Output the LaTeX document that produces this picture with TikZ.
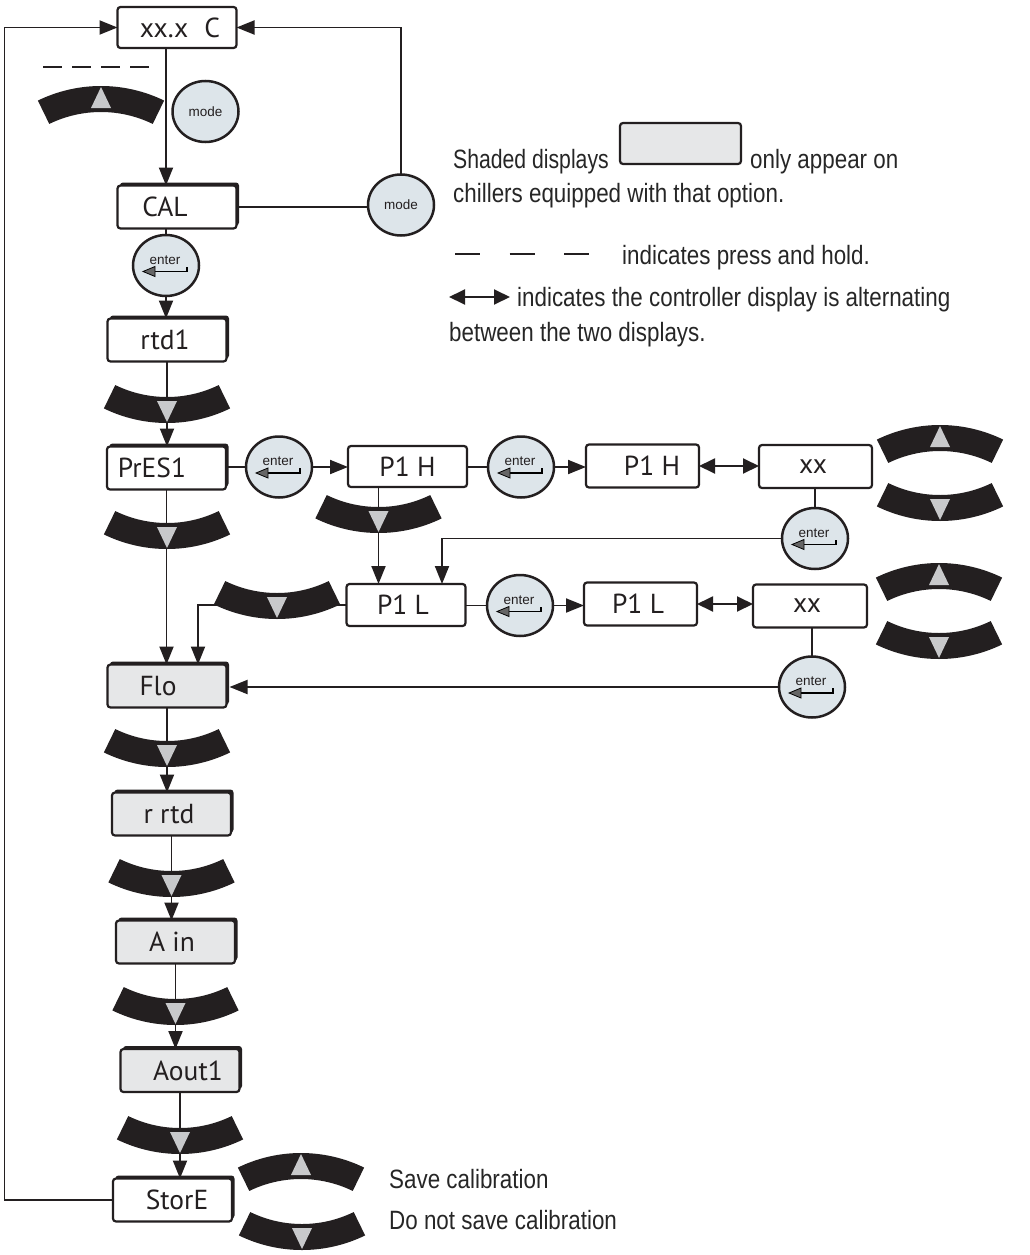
\documentclass[tikz,border=0pt]{standalone}
\usepackage{fontspec}
\setmainfont{Liberation Sans}
\newfontfamily\boxfont{PT Sans}
\newfontfamily\condfont[FakeStretch=0.845]{Liberation Sans}
\newfontfamily\condfontb[FakeStretch=0.80]{Liberation Sans}
\newfontfamily\btnfont{Liberation Sans}
\usetikzlibrary{arrows.meta,calc,shapes.geometric,shadows}
\definecolor{arcfill}{RGB}{35,31,32}
\definecolor{trifill}{RGB}{200,201,203}
\definecolor{shadegray}{RGB}{230,231,232}
\definecolor{btnfill}{RGB}{221,229,234}
\definecolor{inkc}{RGB}{35,31,32}
\newcommand\myarcdown[3]{%
 \coordinate (#1) at (#2,-#3);
 \fill[arcfill] (#2,-#3+144) ++(244:144pt) arc[start angle=244,end angle=296,radius=144pt] -- ++(116:26pt) arc[start angle=296,end angle=244,radius=118pt] -- cycle;
 \fill[trifill] (#2,-#3+1) -- (#2-10,-#3+22) -- (#2+10,-#3+22) -- cycle;}
\newcommand\myarcup[3]{%
 \coordinate (#1) at (#2,-#3);
 \fill[arcfill] (#2,-#3-144) ++(116:144pt) arc[start angle=116,end angle=64,radius=144pt] -- ++(244:26pt) arc[start angle=64,end angle=116,radius=118pt] -- cycle;
 \fill[trifill] (#2,-#3-1) -- (#2-10,-#3-22) -- (#2+10,-#3-22) -- cycle;}
\newcommand\enterbtn[3]{%
 \node[btn] (#1) at (#2,-#3) {};
 \node[btntxt] (#1t) at ($(#1)+(-1,5.5)$) {enter};
 \draw[line width=1.5pt] ($(#1)+(-12,-6)$) -- ($(#1)+(21,-6)$) -- ($(#1)+(21,-1)$);
 \filldraw[fill=black!60, draw=black, line width=0.8pt] ($(#1)+(-23,-6)$) -- ($(#1)+(-11,-1)$) -- ($(#1)+(-11,-11)$) -- cycle;}
\begin{document}
\begin{tikzpicture}[x=1pt,y=1pt,
 disp/.style={draw=inkc, line width=2.2pt, rounded corners=3pt, minimum width=119pt, minimum height=43pt, inner sep=0pt, outer sep=0pt, fill=white, text=inkc, font=\boxfont\fontsize{27.5}{30}\selectfont},
 shd/.style={fill=shadegray},
 dshadow/.style={drop shadow={shadow xshift=2.5pt,shadow yshift=3pt,fill=inkc,opacity=1}},
 btn/.style={ellipse, draw=inkc, line width=2.5pt, fill=btnfill, minimum width=66pt, minimum height=61pt, inner sep=0pt, outer sep=0pt, text=inkc, font=\btnfont\fontsize{13.5}{14}\selectfont},
 btntxt/.style={inner sep=0pt, text=inkc, font=\btnfont\fontsize{13.5}{14}\selectfont},
 leg/.style={inner sep=0pt, text=black!85, font=\condfont\fontsize{26.5}{28}\selectfont},
 conn/.style={draw=inkc, line width=1.9pt},
 arr/.style={conn, -{Triangle[length=18pt,width=14pt]}},
 dbl/.style={conn, {Triangle[length=16pt,width=15pt]}-{Triangle[length=16pt,width=15pt]}}
]
\useasboundingbox (0,0) rectangle (1029,-1255);

% ---- display boxes ----
\node[disp] (xxC) at (177,-27.5) [minimum height=41pt] {\hspace*{6pt}xx.x\hspace{16pt}C};
\node[disp, dshadow] (CAL) at (177,-207) {CAL\hspace*{24pt}};
\node[disp, dshadow] (rtd1) at (167,-340) {rtd1\hspace*{4pt}};
\node[disp, dshadow] (PrES1) at (166.5,-468) {PrES1\hspace*{29pt}};
\node[disp] (P1H) at (407.5,-466.5) [minimum height=41pt] {P1 H};
\node[disp, minimum width=113pt] (P1H2) at (642.5,-466) {\hspace*{19pt}P1 H};
\node[disp, minimum width=113pt] (xx1) at (815.5,-466.5) {xx\hspace*{5pt}};
\node[disp] (P1L) at (406,-605) [minimum height=42pt] {P1 L\hspace*{6pt}};
\node[disp, minimum width=113pt] (P1L2) at (640.5,-604) {P1 L\hspace*{5pt}};
\node[disp, minimum width=114pt] (xx2) at (810,-606) {xx\hspace*{6pt}};
\node[disp, shd, dshadow] (Flo) at (167,-686) {Flo\hspace*{18pt}};
\node[disp, shd, dshadow] (rrtd) at (171.5,-814) {r rtd\hspace*{5pt}};
\node[disp, shd, dshadow] (Ain) at (175.5,-942) {A in\hspace*{7pt}};
\node[disp, shd, dshadow] (Aout1) at (180,-1070.5) {\hspace*{16pt}Aout1};
\node[disp, dshadow] (StorE) at (172.5,-1200) {\hspace*{9pt}StorE};

% ---- buttons ----
\node[btn] (mode1) at (205.5,-111.5) {mode};
\node[btn] (mode2) at (401,-205) {mode};
\enterbtn{e1}{166}{265.5}
\enterbtn{e2}{279}{467}
\enterbtn{e3}{521}{467}
\enterbtn{e4}{815}{538.5}
\enterbtn{e5}{520}{605.5}
\enterbtn{e6}{812}{687}

% ---- helper coordinates ----
\coordinate (lx) at (4.5,0);
\coordinate (jx) at (198,0);
\coordinate (kx) at (442,0);
\coordinate (hx) at (378.5,0);

% ---- connectors ----
\draw[arr] (xxC.south -| e1) -- (CAL.north -| e1);
\draw[conn] (CAL.east) -- (CAL.east -| mode2.west);
\draw[arr] (mode2.north) |- (xxC.east);
\draw[arr] (StorE.west) -- (StorE.west -| lx) |- (xxC.west);
\draw[conn] (CAL.south -| e1) -- (e1.north);
\draw[arr] (e1.south) -- (e1.south |- rtd1.north);
\draw[arr] (rtd1.south) -- (rtd1.south |- PrES1.north);
\draw[conn] (e2.west -| PrES1.east) -- (e2.west);
\draw[arr] (e2.east) -- (e2.east -| P1H.west);
\draw[conn] (e3.west -| P1H.east) -- (e3.west);
\draw[arr] (e3.east) -- (e3.east -| P1H2.west);
\draw[dbl] (P1H2.east) -- (P1H2.east -| xx1.west);
\draw[conn] (xx1.south -| e4) -- (e4.north);
\draw[arr] (e4.west) -- (e4.west -| kx) -- (kx |- P1L.north);
\draw[arr] (P1H.south -| hx) -- (P1L.north -| hx);
\draw[conn] (e5.west -| P1L.east) -- (e5.west);
\draw[arr] (e5.east) -- (e5.east -| P1L2.west);
\draw[dbl] (P1L2.east) -- (P1L2.east -| xx2.west);
\draw[conn] (xx2.south -| e6) -- (e6.north);
\draw[arr, shorten >=3pt] (e6.west) -- (e6.west -| Flo.east);
\draw[arr] (PrES1.south) -- (PrES1.south |- Flo.north);
\draw[arr] (P1L.west) -- (P1L.west -| jx) -- (jx |- Flo.north);
\draw[arr] (Flo.south) -- (Flo.south |- rrtd.north);
\draw[arr] (rrtd.south) -- (rrtd.south |- Ain.north);
\draw[arr] (Ain.south) -- (Ain.south |- Aout1.north);
\draw[arr] (Aout1.south) -- (Aout1.south |- StorE.north);

% ---- arrow keys ----
\myarcup{a1}{101}{86}
\myarcdown{a2}{167}{423}
\myarcdown{a3}{167}{549}
\myarcdown{a4}{378.5}{533}
\myarcdown{a5}{277}{619}
\myarcup{a6}{940}{425}
\myarcdown{a7}{940}{521}
\myarcup{a8}{939}{563}
\myarcdown{a9}{939}{659}
\myarcdown{a10}{167}{767}
\myarcdown{a11}{171.5}{897}
\myarcdown{a12}{175.5}{1025}
\myarcdown{a13}{180}{1154}
\myarcup{a14}{301}{1153}
\myarcdown{a15}{302}{1250}

% ---- press and hold mark at top ----
\coordinate (ph1) at (43,-67);
\coordinate (ph2) at (149,-67);
\draw[draw=inkc, line width=2pt, dash pattern=on 19pt off 10pt] (ph1) -- (ph2);

% ---- legend ----
\node[leg, anchor=base west, font=\condfontb\fontsize{26.5}{28}\selectfont] (t1) at (453,-168) {Shaded displays};
\node[disp, shd, minimum width=121pt, minimum height=41pt] (legbox) at (680.5,-143.5) {};
\node[leg, anchor=base west] (t2) at (750,-168) {only appear on};
\node[leg, anchor=base west] (t3) at (453,-202) {chillers equipped with that option.};
\coordinate (dl1) at (455,-254);
\coordinate (dl2) at (589,-254);
\draw[draw=inkc, line width=2.4pt, dash pattern=on 25pt off 29.5pt] (dl1) -- (dl2);
\node[leg, anchor=base west] (t4) at (622,-264) {indicates press and hold.};
\coordinate (da) at (449,-297);
\coordinate (db) at (510,-297);
\draw[dbl] (da) -- (db);
\node[leg, anchor=base west] (t5) at (517,-306) {indicates the controller display is alternating};
\node[leg, anchor=base west] (t6) at (449,-341) {between the two displays.};
\node[leg, anchor=base west] (t7) at (389,-1188) {Save calibration};
\node[leg, anchor=base west] (t8) at (389,-1229) {Do not save calibration};
\end{tikzpicture}
\end{document}
